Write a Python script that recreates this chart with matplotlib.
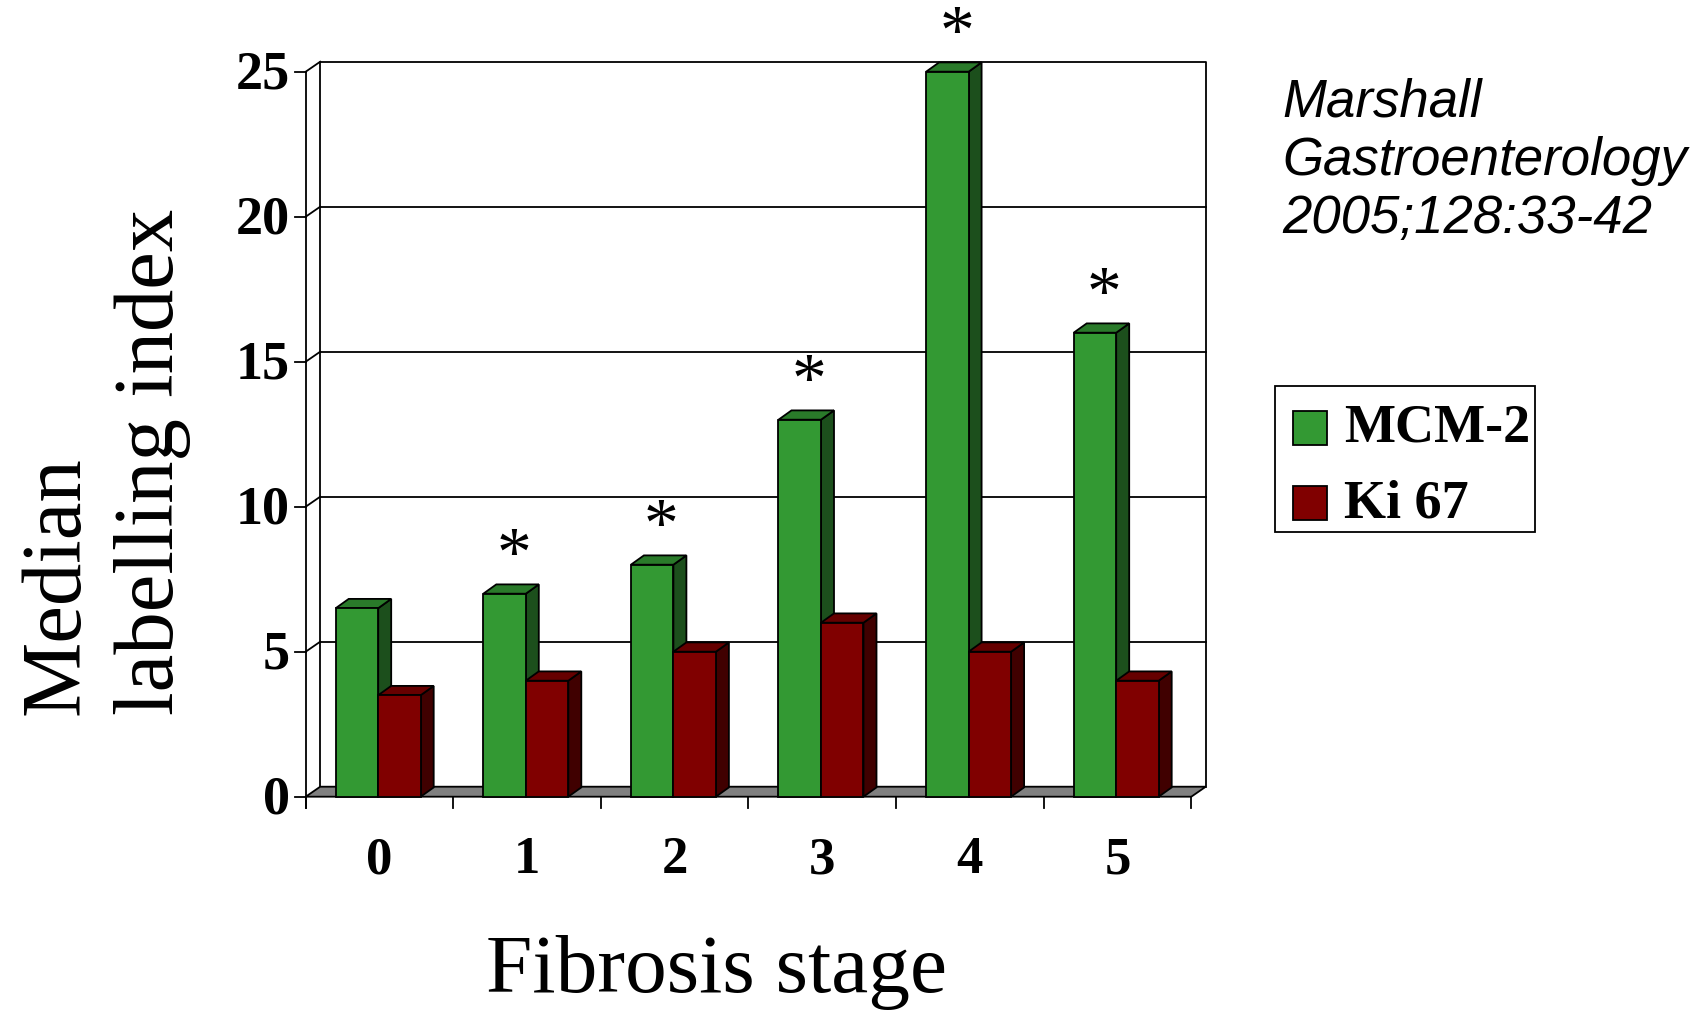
import numpy as np
import matplotlib.pyplot as plt
from matplotlib.patches import Polygon, Rectangle

# 数据
stages = ['0', '1', '2', '3', '4', '5']
mcm2 = [6.5, 7, 8, 13, 25, 16]
ki67 = [3.5, 4, 5, 6, 5, 4]
mcm2_sig = [False, True, True, True, True, True]  # 星号
yticks = [0, 5, 10, 15, 20, 25]
series_names = ['MCM-2', 'Ki 67']
ref_lines = ['Marshall', 'Gastroenterology', '2005;128:33-42']

W, H = 1706, 1011
X0, CAT = 305.7, 147.6   # 类别0的像素位置, 每个类别的像素宽
Y0, UNIT = 796.7, 29.0   # y=0的像素位置, 每单位像素
SERIF = ['Liberation Serif', 'DejaVu Serif']
SANS = ['Liberation Sans', 'DejaVu Sans']

fig = plt.figure(figsize=(W / 100, H / 100), dpi=100)
ax = fig.add_axes([0, 0, 1, 1])
ax.set_xlim(-X0 / CAT, (W - X0) / CAT)
ax.set_ylim((Y0 - H) / UNIT, Y0 / UNIT)
ax.axis('off')

n = len(stages)
top = yticks[-1]
dx, dy = 14.5 / CAT, 10 / UNIT     # 墙的深度
bdx, bdy = 13 / CAT, 9.3 / UNIT    # 柱子的深度
lw = 1.3
tick_len = 11

# 背景墙和网格
ax.plot([dx, dx, n + dx, n + dx], [dy, top + dy, top + dy, dy], color='k', lw=lw, zorder=1)
for v in yticks[1:-1]:
    ax.plot([dx, n + dx], [v + dy, v + dy], color='k', lw=lw, zorder=1)
for v in yticks[1:]:
    ax.plot([0, dx], [v, v + dy], color='k', lw=lw, zorder=1)
ax.plot([0, 0], [-tick_len / UNIT, top], color='k', lw=lw, zorder=1)
for v in yticks:
    ax.plot([-tick_len / CAT, 0], [v, v], color='k', lw=lw, zorder=1)
    ax.text(-16 / CAT, v - 4 / UNIT, str(v), ha='right', va='center',
            fontsize=39, fontweight='bold', family=SERIF)

# 地板
ax.add_patch(Polygon([(0, 0), (n, 0), (n + dx, dy), (dx, dy)], closed=True,
                     fc='#808080', ec='k', lw=lw, zorder=2))
for i in range(n + 1):
    ax.plot([i, i], [0, -tick_len / UNIT], color='k', lw=lw, zorder=2)
for i, s in enumerate(stages):
    ax.text(i + 0.5, (Y0 - 860) / UNIT, s, ha='center', va='center',
            fontsize=38, fontweight='bold', family=SERIF)


def bar3d(x, w, h, front, topc, side, z):
    ax.add_patch(Polygon([(x + w, 0), (x + w + bdx, bdy), (x + w + bdx, h + bdy), (x + w, h)],
                         closed=True, fc=side, ec='k', lw=lw, zorder=z))
    ax.add_patch(Polygon([(x, h), (x + w, h), (x + w + bdx, h + bdy), (x + bdx, h + bdy)],
                         closed=True, fc=topc, ec='k', lw=lw, zorder=z))
    ax.add_patch(Polygon([(x, 0), (x + w, 0), (x + w, h), (x, h)],
                         closed=True, fc=front, ec='k', lw=lw, zorder=z))


green = ('#339933', '#2a7a2a', '#1c4f1c')
red = ('#800000', '#660000', '#400000')
bw = 42.5 / CAT
for i in range(n):
    gx = i + 30 / CAT
    bar3d(gx, bw, mcm2[i], *green, z=3 + 2 * i)
    bar3d(gx + bw, bw, ki67[i], *red, z=4 + 2 * i)
    if mcm2_sig[i]:
        ax.text(i + 0.41, mcm2[i] + 0.65, '*', ha='center', va='baseline',
                fontsize=50, family=SERIF, zorder=20)

# 坐标轴标题
ax.text((717 - X0) / CAT, (Y0 - 992) / UNIT, 'Fibrosis stage', ha='center', va='baseline',
        fontsize=60, family=SERIF)
ax.text((79 - X0) / CAT, (Y0 - 715) / UNIT, 'Median', rotation=90, rotation_mode='anchor',
        ha='left', va='baseline', fontsize=61, family=SERIF)
ax.text((173 - X0) / CAT, (Y0 - 715) / UNIT, 'labelling index', rotation=90, rotation_mode='anchor',
        ha='left', va='baseline', fontsize=61, family=SERIF)

# 文献
for k, line in enumerate(ref_lines):
    fig.text(1282 / W, 1 - (116.5 + 58.5 * k) / H, line, ha='left', va='baseline',
             fontsize=38, style='italic', family=SANS)

# 图例
fig.add_artist(Rectangle((1275 / W, 1 - 532 / H), 260 / W, 146 / H, transform=fig.transFigure,
                         fill=False, ec='k', lw=lw))
for k, (name, cols) in enumerate(zip(series_names, [green, red])):
    yc = 428 + 75 * k
    fig.add_artist(Rectangle((1293 / W, 1 - (yc + 17) / H), 34 / W, 34 / H,
                             transform=fig.transFigure, fc=cols[0], ec='k', lw=lw))
    fig.text(1344 / W, 1 - (yc + 1) / H, name, ha='left', va='center',
             fontsize=39, fontweight='bold', family=SERIF)

plt.savefig('out.png', dpi=100)
